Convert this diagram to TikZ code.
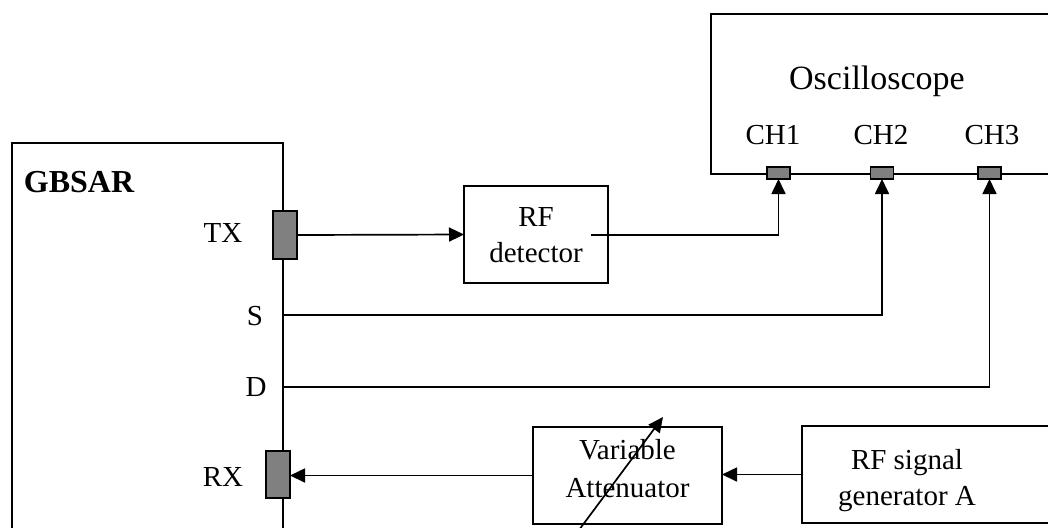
\documentclass[tikz,border=0pt]{standalone}
\usepackage{fontspec}
\setmainfont{Liberation Serif}
\usepackage{tikz}
\usetikzlibrary{arrows.meta,shapes}
\usetikzlibrary{positioning}
\tikzstyle{block} = [rectangle, draw, line width=0.9pt, inner sep=0pt, outer sep=0pt]
\tikzstyle{port} = [rectangle, draw, fill=gray, line width=0.7pt, inner sep=0pt,
    outer sep=0pt, minimum width=11.5pt, minimum height=6pt]
\tikzstyle{tag} = [inner sep=0pt, align=center, font=\fontsize{14.5}{18}\selectfont]
\tikzstyle{wire} = [line width=0.85pt, -{Triangle[length=7.5pt,width=7pt]}]

\begin{document}
\begin{tikzpicture}[x=0.5pt,y=-0.5pt]
  \useasboundingbox (0,0) rectangle (1048,527);
  \clip (0,0) rectangle (1048,527);
  % Place boxes
  \draw[line width=0.9pt] (12,540) -- (12,143) -- (283,143) -- (283,540);
  \node [block, minimum width=179.5pt, minimum height=80pt] (osc) at (890.5,94) {};
  \node [block, minimum width=72pt, minimum height=48.5pt] (det) at (536,234.5) {};
  \node [block, minimum width=94.5pt, minimum height=48.5pt] (att) at (627.5,475.5) {};
  \node [block, minimum width=134pt, minimum height=48.5pt] (gen) at (936,474.5) {};
  % Place ports
  \node [port, minimum width=12pt, minimum height=24pt] (tx) at (285,235) {};
  \node [port, minimum width=12pt, minimum height=23.5pt] (rx) at (278,474.5) {};
  \node [port] (ch1) at (778.5,173) {};
  \node [port] (ch2) at (882,173) {};
  \node [port] (ch3) at (989.5,173) {};
  % Place labels
  \node [tag, font=\fontsize{16}{18}\selectfont\bfseries] (gbsar) at (79,182.5) {GBSAR};
  \node [tag, font=\fontsize{17}{20}\selectfont] (osclabel) at (877,81) {Oscilloscope};
  \node [tag] (ch1label) at (773,135.5) {CH1};
  \node [tag] (ch2label) at (881,135.5) {CH2};
  \node [tag] (ch3label) at (992,135.5) {CH3};
  \node [tag] (txlabel) at (223,233) {TX};
  \node [tag] (rxlabel) at (223,476.5) {RX};
  \node [tag] (slabel) at (255,316) {S};
  \node [tag] (dlabel) at (256,387.5) {D};
  \node [tag] (detlabel) at (536,235.5) {RF\\detector};
  \node [tag, font=\fontsize{14.5}{19}\selectfont] (attlabel) at (627.5,469) {Variable\\Attenuator};
  \node [tag] (genlabel) at (907,481) {RF signal\\generator A};
  % Draw edges
  \coordinate (s) at (283,315);
  \coordinate (d) at (283,387);
  \coordinate (detout) at (591,235);
  \coordinate (knob) at (579,530);
  \coordinate (knobtip) at (663,417);
  \draw[wire] (tx.east) -- (det.west);
  \draw[wire] (detout) -| (ch1.south);
  \draw[wire] (s) -| (ch2.south);
  \draw[wire] (d) -| (ch3.south);
  \draw[wire] (att.west) -- (att.west -| rx.east);
  \draw[wire] (gen.west) -- (gen.west -| att.east);
  \draw[wire] (knob) -- (knobtip);
\end{tikzpicture}
\end{document}
